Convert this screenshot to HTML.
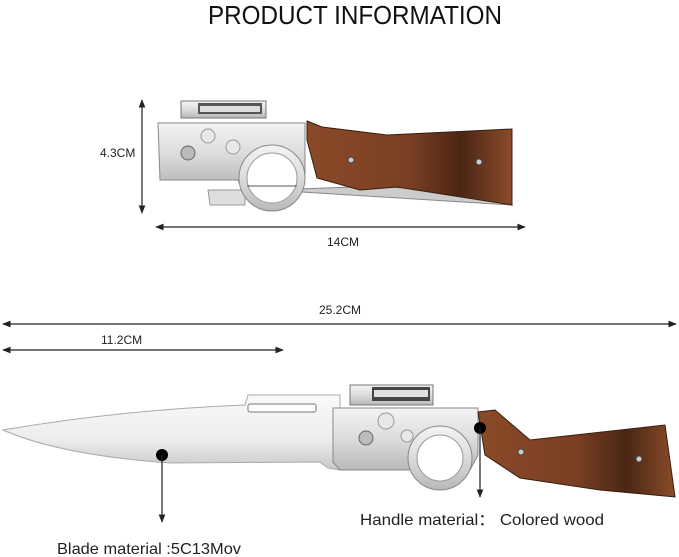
<!DOCTYPE html>
<html><head><meta charset="utf-8"><style>
html,body{margin:0;padding:0;background:#fff;}
svg{display:block;font-family:"Liberation Sans Narrow","Liberation Sans",sans-serif;}
</style></head><body>
<svg width="679" height="557" viewBox="0 0 679 557" xmlns="http://www.w3.org/2000/svg">
<defs>
<linearGradient id="sil" x1="0" y1="0" x2="0" y2="1">
<stop offset="0" stop-color="#f4f4f4"/><stop offset="0.5" stop-color="#dcdcdc"/><stop offset="1" stop-color="#b8b8b8"/></linearGradient>
<linearGradient id="blade" x1="0" y1="0" x2="0" y2="1">
<stop offset="0" stop-color="#fafafa"/><stop offset="0.6" stop-color="#ececec"/><stop offset="1" stop-color="#c8c8c8"/></linearGradient>
<linearGradient id="wood" x1="0" y1="0" x2="1" y2="0">
<stop offset="0" stop-color="#8a4a28"/><stop offset="0.5" stop-color="#7a3f22"/><stop offset="0.75" stop-color="#4a2614"/><stop offset="1" stop-color="#8a4c2a"/></linearGradient>
<marker id="ar" viewBox="0 0 10 10" refX="9" refY="5" markerWidth="7" markerHeight="7" orient="auto-start-reverse"><path d="M0,1 L10,5 L0,9 z" fill="#222"/></marker>
</defs>
<text x="355" y="24" font-size="26" text-anchor="middle" textLength="294" lengthAdjust="spacingAndGlyphs" fill="#111">PRODUCT INFORMATION</text>

<line x1="142" y1="100" x2="142" y2="213" stroke="#222" stroke-width="1.2" marker-start="url(#ar)" marker-end="url(#ar)"/>
<text x="100" y="157" font-size="12" fill="#222">4.3CM</text>
<line x1="156" y1="227" x2="525" y2="227" stroke="#222" stroke-width="1.2" marker-start="url(#ar)" marker-end="url(#ar)"/>
<text x="327" y="246" font-size="12" fill="#222">14CM</text>
<rect x="181" y="101" width="85" height="17" fill="url(#sil)" stroke="#777"/>
<rect x="198" y="103" width="64" height="11" fill="#555"/>
<rect x="200" y="106" width="60" height="6" fill="#ddd"/>
<path d="M270,190 L512,205 L505,196 L380,186 Z" fill="#ccc" stroke="#888"/>
<path d="M158,123 L305,123 L305,176 L300,185 L240,185 L238,180 L160,180 Z" fill="url(#sil)" stroke="#888"/>
<path d="M208,190 L245,190 L245,205 L210,205 Z" fill="#ddd" stroke="#999"/>
<circle cx="272" cy="178" r="33" fill="url(#sil)" stroke="#888"/>
<circle cx="272" cy="178" r="25" fill="#fff" stroke="#999"/>
<line x1="247" y1="186" x2="297" y2="186" stroke="#555"/>
<circle cx="188" cy="153" r="7" fill="#bbb" stroke="#666"/>
<circle cx="208" cy="136" r="7" fill="#e8e8e8" stroke="#999"/>
<circle cx="233" cy="147" r="7" fill="#e8e8e8" stroke="#999"/>
<path d="M307,121 L322,127 L387,135 L512,129 L512,205 L397,187 L360,190 L317,178 L307,140 Z" fill="url(#wood)" stroke="#3a1d0e"/>
<circle cx="351" cy="160" r="3" fill="#ccc" stroke="#444"/>
<circle cx="479" cy="162" r="3" fill="#ccc" stroke="#444"/>

<line x1="3" y1="324" x2="676" y2="324" stroke="#222" stroke-width="1.2" marker-start="url(#ar)" marker-end="url(#ar)"/>
<text x="319" y="314" font-size="12" fill="#222">25.2CM</text>
<line x1="3" y1="350" x2="283" y2="350" stroke="#222" stroke-width="1.2" marker-start="url(#ar)" marker-end="url(#ar)"/>
<text x="101" y="344" font-size="12" fill="#222">11.2CM</text>

<path d="M3,430 Q120,410 245,405 L248,395 L340,395 L340,470 L328,468 L320,462 L170,463 Q60,455 3,430 Z" fill="url(#blade)" stroke="#aaa"/>
<rect x="248" y="404" width="68" height="8" rx="2" fill="#fff" stroke="#777"/>
<rect x="350" y="385" width="83" height="20" fill="url(#sil)" stroke="#777"/>
<rect x="372" y="387" width="58" height="14" fill="#444"/>
<rect x="374" y="390" width="54" height="7" fill="#e0e0e0"/>
<path d="M333,408 L478,408 L478,455 L470,470 L340,470 L333,462 Z" fill="url(#sil)" stroke="#888"/>
<circle cx="440" cy="458" r="32" fill="url(#sil)" stroke="#888"/>
<circle cx="440" cy="458" r="23" fill="#fff" stroke="#999"/>
<circle cx="366" cy="438" r="7" fill="#bbb" stroke="#666"/>
<circle cx="386" cy="421" r="8" fill="#e8e8e8" stroke="#999"/>
<circle cx="407" cy="436" r="6" fill="#e8e8e8" stroke="#999"/>
<path d="M478,412 L495,410 L530,440 L665,425 L675,497 L600,490 L520,478 L485,455 Z" fill="url(#wood)" stroke="#3a1d0e"/>
<circle cx="521" cy="452" r="3" fill="#ccc" stroke="#444"/>
<circle cx="639" cy="459" r="3" fill="#ccc" stroke="#444"/>

<circle cx="162" cy="455" r="6" fill="#000"/>
<line x1="162" y1="455" x2="162" y2="522" stroke="#222" stroke-width="1.2" marker-end="url(#ar)"/>
<circle cx="480" cy="428" r="6" fill="#000"/>
<line x1="480" y1="428" x2="480" y2="497" stroke="#222" stroke-width="1.2" marker-end="url(#ar)"/>
<text x="360" y="525" font-size="16" fill="#222" textLength="244" lengthAdjust="spacingAndGlyphs">Handle material：  Colored wood</text>
<text x="57" y="554" font-size="16" fill="#222" textLength="184" lengthAdjust="spacingAndGlyphs">Blade material :5C13Mov</text>
</svg>
</body></html>
